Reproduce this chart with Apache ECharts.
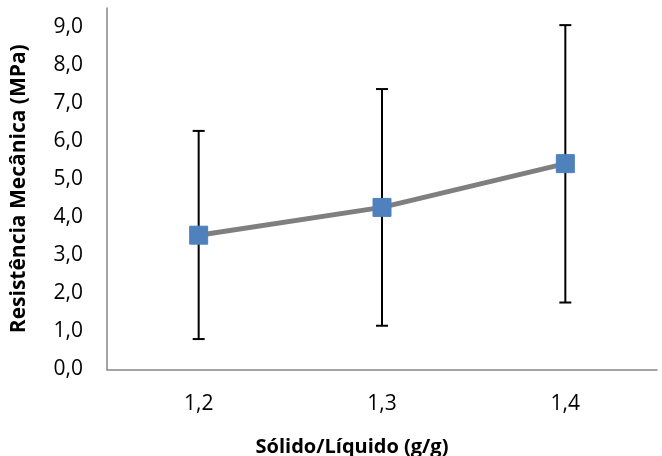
<!DOCTYPE html>
<html>
<head>
<meta charset="utf-8">
<script src="https://cdn.jsdelivr.net/npm/echarts@6/dist/echarts.min.js"></script>
<style>html,body{margin:0;padding:0;background:#fff;}#c{width:662px;height:456px;}</style>
</head>
<body>
<div id="c"></div>
<script>
var categories = ['1,2', '1,3', '1,4'];
var means = [3.53, 4.26, 5.41];
var errLow = [0.80, 1.15, 1.76];
var errHigh = [6.27, 7.37, 9.05];
var yTicks = [0, 1, 2, 3, 4, 5, 6, 7, 8, 9];

var FONT = '"Open Sans", "Noto Sans", sans-serif';
var chart = echarts.init(document.getElementById('c'));
chart.setOption({
  animation: false,
  grid: { left: 107, right: 5, top: 8, bottom: 86.5 },
  xAxis: {
    type: 'category',
    data: categories,
    boundaryGap: true,
    axisLine: { lineStyle: { color: '#868686', width: 1.5 } },
    axisTick: { show: false },
    axisLabel: { color: '#000', fontSize: 21, fontFamily: FONT, margin: 24 }
  },
  yAxis: {
    type: 'value',
    min: 0, max: 9.5, interval: 1,
    axisLine: { show: true, lineStyle: { color: '#868686', width: 1.5 } },
    axisTick: { show: false },
    splitLine: { show: false },
    axisLabel: {
      color: '#000', fontSize: 21, fontFamily: FONT, margin: 24,
      formatter: function (v) { return yTicks.indexOf(v) >= 0 ? v.toFixed(1).replace('.', ',') : ''; }
    },
    name: 'Resistência Mecânica (MPa)',
    nameLocation: 'middle',
    nameGap: 77,
    nameTextStyle: { color: '#000', fontSize: 21, fontWeight: 'bold', fontFamily: FONT }
  },
  graphic: [{
    type: 'text', x: 352, y: 447,
    style: { text: 'Sólido/Líquido (g/g)', fill: '#000', font: 'bold 20px ' + FONT, textAlign: 'center', textVerticalAlign: 'middle' }
  }],
  series: [
    {
      type: 'custom',
      z: 1,
      renderItem: function (params, api) {
        var x = api.value(0);
        var lo = api.coord([x, api.value(1)]);
        var hi = api.coord([x, api.value(2)]);
        var w = 6;
        var st = { stroke: '#000', lineWidth: 2 };
        return {
          type: 'group',
          children: [
            { type: 'line', shape: { x1: lo[0], y1: lo[1], x2: hi[0], y2: hi[1] }, style: st },
            { type: 'line', shape: { x1: lo[0] - w, y1: lo[1], x2: lo[0] + w, y2: lo[1] }, style: st },
            { type: 'line', shape: { x1: hi[0] - w, y1: hi[1], x2: hi[0] + w, y2: hi[1] }, style: st }
          ]
        };
      },
      data: categories.map(function (c, i) { return [i, errLow[i], errHigh[i]]; })
    },
    {
      type: 'line',
      z: 2,
      data: means,
      symbol: 'rect',
      symbolSize: 18,
      lineStyle: { color: '#7F7F7F', width: 5 },
      itemStyle: { color: '#4F81BD', borderColor: '#4F81BD', borderWidth: 1 }
    }
  ]
});
</script>
</body>
</html>
